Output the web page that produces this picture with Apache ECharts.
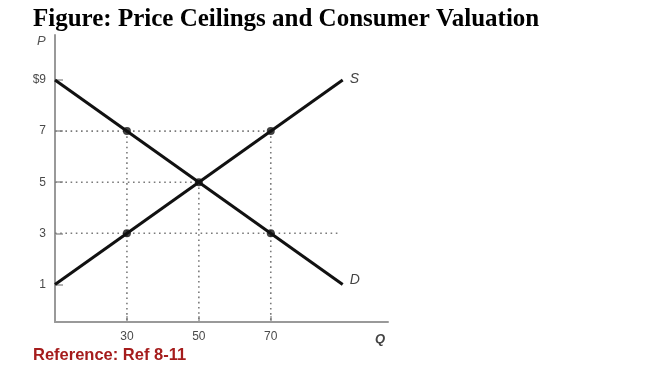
<!DOCTYPE html>
<html>
<head>
<meta charset="utf-8">
<script src="https://cdn.jsdelivr.net/npm/echarts@6/dist/echarts.min.js"></script>
<style>
  html, body { margin: 0; padding: 0; background: #fff; }
  #chart { width: 650px; height: 377px; }
</style>
</head>
<body>
<div id="chart"></div>
<script>
// axis ranges and ticks
const qMin = 10;
const qMax = 102.6;
const pMin = -0.47;
const pMax = 10.76;
const qTicks = [30, 50, 70];
const pTicks = [1, 3, 5, 7, 9];
const pTickLabels = ['1', '3', '5', '7', '$9'];

// curves
const demandQ = [10, 90];
const demandP = [9, 1];
const supplyQ = [10, 90];
const supplyP = [1, 9];

// highlighted points
const pointQ = [30, 30, 50, 70, 70];
const pointP = [7, 3, 5, 7, 3];

// dotted guide lines (horizontal: price level up to quantity, vertical: quantity up to price)
const hGuideP = [7, 5, 3];
const hGuideQEnd = [70, 50, 89];
const vGuideQ = [30, 50, 70];
const vGuidePTop = [7, 5, 7];

const chart = echarts.init(document.getElementById('chart'));

const guideStyle = { color: '#7a7a7a', width: 1.6, type: [1.6, 3.6] };
const guideSeries = [];
hGuideP.forEach((p, i) => {
  guideSeries.push({
    type: 'line',
    data: [[qMin, p], [hGuideQEnd[i], p]],
    showSymbol: false,
    silent: true,
    z: 1,
    lineStyle: guideStyle
  });
});
vGuideQ.forEach((q, i) => {
  guideSeries.push({
    type: 'line',
    data: [[q, vGuidePTop[i]], [q, pMin]],
    showSymbol: false,
    silent: true,
    z: 1,
    lineStyle: guideStyle
  });
});

const curveLabel = (name, offset) => ({
  show: true,
  formatter: (p) => (p.dataIndex === 1 ? name : ''),
  position: 'right',
  offset: offset,
  color: '#444',
  fontStyle: 'italic',
  fontFamily: 'Liberation Sans',
  fontSize: 14
});

const option = {
  animation: false,
  title: [
    {
      text: 'Figure: Price Ceilings and Consumer Valuation',
      left: 28,
      top: 2,
      textStyle: { fontFamily: 'Liberation Serif', fontWeight: 'bold', fontSize: 25, color: '#000' }
    },
    {
      text: 'Reference: Ref 8-11',
      left: 28,
      top: 342,
      textStyle: { fontFamily: 'Liberation Sans', fontWeight: 'bold', fontSize: 16.5, color: '#a51c1c' }
    }
  ],
  graphic: [
    { type: 'text', left: 37, top: 35, style: { text: 'P', fontFamily: 'Liberation Sans', fontStyle: 'italic', fontSize: 13, fill: '#555' } },
    { type: 'text', left: 375, top: 333, style: { text: 'Q', fontFamily: 'Liberation Sans', fontStyle: 'italic', fontWeight: 'bold', fontSize: 13, fill: '#444' } }
  ],
  grid: { left: 55, right: 262, top: 35, bottom: 55 },
  xAxis: {
    type: 'value',
    min: qMin,
    max: qMax,
    axisLine: { show: true, onZero: false, lineStyle: { color: '#999', width: 2 } },
    axisTick: { show: true, inside: true, length: 6, customValues: qTicks, lineStyle: { color: '#999', width: 1.5 } },
    axisLabel: { customValues: qTicks, color: '#4a4a4a', fontFamily: 'Liberation Sans', fontSize: 12, margin: 9 },
    splitLine: { show: false }
  },
  yAxis: {
    type: 'value',
    min: pMin,
    max: pMax,
    axisLine: { show: true, onZero: false, lineStyle: { color: '#999', width: 2 } },
    axisTick: { show: true, inside: true, length: 8, customValues: pTicks, lineStyle: { color: '#999', width: 1.5 } },
    axisLabel: {
      customValues: pTicks,
      color: '#4a4a4a',
      fontFamily: 'Liberation Sans',
      fontSize: 12,
      margin: 9,
      formatter: (v) => pTickLabels[pTicks.indexOf(Math.round(v))] || ''
    },
    splitLine: { show: false }
  },
  series: [
    ...guideSeries,
    {
      name: 'D',
      type: 'line',
      data: demandQ.map((q, i) => [q, demandP[i]]),
      showSymbol: true,
      symbolSize: 0,
      z: 3,
      lineStyle: { color: '#111', width: 3 },
      label: curveLabel('D', [2, -4])
    },
    {
      name: 'S',
      type: 'line',
      data: supplyQ.map((q, i) => [q, supplyP[i]]),
      showSymbol: true,
      symbolSize: 0,
      z: 3,
      lineStyle: { color: '#111', width: 3 },
      label: curveLabel('S', [2, -1])
    },
    {
      type: 'scatter',
      data: pointQ.map((q, i) => [q, pointP[i]]),
      symbolSize: 8,
      z: 4,
      itemStyle: { color: '#111' }
    }
  ]
};

chart.setOption(option);
</script>
</body>
</html>
